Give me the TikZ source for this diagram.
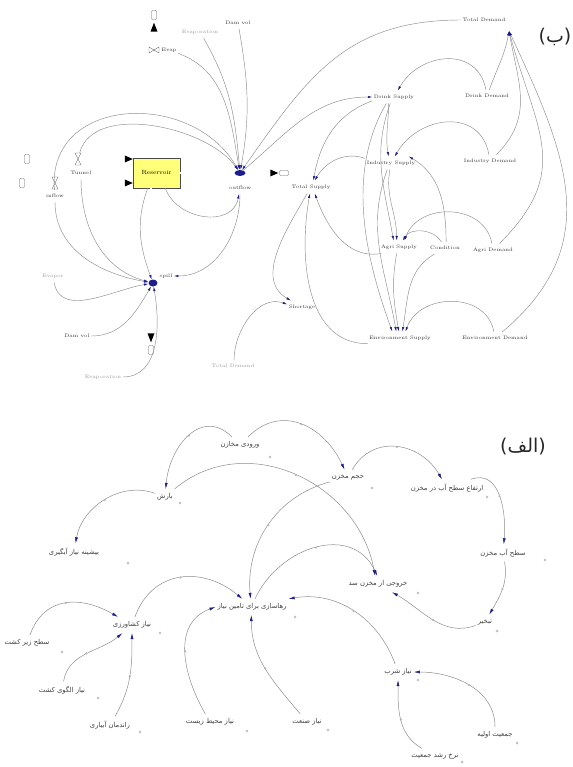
\documentclass[tikz,border=0pt]{standalone}
\usepackage{fontspec}
\usetikzlibrary{arrows.meta,shapes.geometric,calc}
\TeXXeTstate=1
\newfontfamily\fafont[Script=Arabic]{DejaVu Sans}
\definecolor{arrowblue}{HTML}{1E1E8A}
\definecolor{linegray}{HTML}{8C8C8C}
\definecolor{stockyellow}{HTML}{FFFF7A}
\newcommand{\prs}[1]{\beginR #1\endR}
\begin{document}
\begin{tikzpicture}[x=1pt,y=1pt,
  en/.style={font=\fontsize{5}{6}\selectfont, text=black!80, inner xsep=1.5pt, inner ysep=4pt},
  engray/.style={en, text=black!40},
  fal/.style={font=\fafont\fontsize{6.8}{8}\selectfont, text=black!75, inner xsep=2pt, inner ysep=4.5pt},
  con/.style={draw=linegray, line width=0.45pt, -{Latex[length=4.5pt,width=2.4pt,color=arrowblue]}},
  conb/.style={draw=linegray, line width=0.5pt, -{Latex[length=6pt,width=3pt,color=arrowblue]}},
  pipe/.style={draw=black!45, line width=0.5pt, double=white, double distance=1.2pt},
  cloudbox/.style={draw=black!60, fill=white, rounded corners=1.2pt, minimum width=5pt, minimum height=9pt, inner sep=0},
  dotm/.style={circle, draw=black!35, inner sep=0, minimum size=2.4pt},
  mm/.style={circle, draw=black!30, inner sep=0, minimum size=1.6pt, pos=0.5},
  blob/.style={ellipse, fill=arrowblue, minimum width=11pt, minimum height=6pt, inner sep=0},
  valvebox/.style={inner sep=0, minimum size=12pt},
  valve/.style={draw=black!60, line width=0.4pt},
  biglab/.style={font=\fafont\fontsize{19}{21}\selectfont, text=black!85, inner sep=0},
]
\useasboundingbox (0,0) rectangle (572,-767);

% ================= top diagram (b) =================
\node[draw=black!70, fill=stockyellow, minimum width=47pt, minimum height=30pt, inner sep=0,
      font=\fontsize{6}{7}\selectfont] (box) at (156.5,-173) {Reservoir};
\node[cloudbox] (ctop) at (154,-15) {};
\node[cloudbox] (cL1) at (27,-159) {};
\node[cloudbox] (cL2) at (22,-183) {};
\node[cloudbox, minimum width=9pt, minimum height=5pt] (cR) at (284,-173) {};
\node[cloudbox] (cB) at (151,-350) {};

% pipes
\draw[pipe] (ctop.south) -- (ctop.south |- box.north);
\draw[pipe] (cL1.east) -- (cL1.east -| box.west);
\draw[pipe] (cL2.east) -- (cL2.east -| box.west);
\draw[pipe] (box.east) -- (cR.west);
\draw[pipe] (cB.north) -- (cB.north |- box.south);
\fill[black] ($(ctop.south)+(0,-3)$) -- ++(-3.5,-9) -- ++(7,0) -- cycle;
\fill[black] (cL1.east -| box.west) -- ++(-8,3.5) -- ++(0,-7) -- cycle;
\fill[black] (cL2.east -| box.west) -- ++(-8,3.5) -- ++(0,-7) -- cycle;
\fill[black] ($(cR.west)+(-1,0)$) -- ++(-8,3.5) -- ++(0,-7) -- cycle;
\fill[black] ($(cB.north)+(0,3)$) -- ++(-3.5,9) -- ++(7,0) -- cycle;

% valves
\node[valvebox] (vEvap) at (154,-50) {};
\draw[valve, shift={(vEvap)}] (-5,3) -- (-5,-3) -- (5,3) -- (5,-3) -- cycle;
\node[valvebox] (vTun) at (78,-159) {};
\draw[valve, shift={(vTun)}] (-3,6) -- (3,6) -- (-3,-6) -- (3,-6) -- cycle;
\node[valvebox] (vIn) at (55,-183) {};
\draw[valve, shift={(vIn)}] (-3,6) -- (3,6) -- (-3,-6) -- (3,-6) -- cycle;
\node[blob] (vOut) at (240,-173) {};
\node[blob, minimum width=9pt, minimum height=7pt] (vSpill) at (153,-283) {};

% labels
\node[en] (lEvap) at (169,-50) {Evap};
\node[engray] (gEvap) at (200,-32) {Evaporation};
\node[en] (lRain) at (238,-23) {Dam vol};
\node[en] (lTun) at (81,-173) {Tunnel};
\node[en] (lIn) at (55,-196) {inflow};
\node[en] (lOut) at (240,-188) {outflow};
\node[en] (lSpill) at (166,-276) {spill};
\node[engray] (gEvap2) at (53,-276) {Evapor};
\node[en] (lDam) at (77,-336) {Dam vol};
\node[engray] (gBot) at (103,-377) {Evaporation};
\node[engray] (gTD) at (233,-366) {Total Demand};
\node[en] (Short) at (302,-307) {Shortage};
\node[en] (TD) at (484,-20) {Total Demand};
\coordinate (TDin) at (509,-31);
\node[en] (DS) at (394,-97) {Drink Supply};
\node[en] (DD) at (487,-96) {Drink Demand};
\node[en] (IS) at (391,-163) {Industry Supply};
\node[en] (ID) at (490,-161) {Industry Demand};
\node[en] (TS) at (311,-187) {Total Supply};
\node[en] (AS) at (399,-247) {Agri Supply};
\node[en] (Cond) at (445,-248) {Condition};
\node[en] (AD) at (493,-250) {Agri Demand};
\node[en] (ES) at (400,-338) {Environment Supply};
\node[en] (ED) at (495,-338) {Environment Demand};

% top-left connectors
\draw[con] (lIn) to[out=95,in=120,looseness=1.3] (vOut);
\draw[con] (vTun) to[out=75,in=125,looseness=0.85] (vOut);
\draw[con] (lEvap) to[out=-20,in=100] (vOut);
\draw[con] (gEvap) to[out=-60,in=95] (vOut);
\draw[con] (lRain) to[out=-80,in=80] (vOut);
\draw[con] (box.-60) to[out=-70,in=-100,looseness=1.2] (lOut);
\draw[con] (lOut) to[out=-90,in=0] (lSpill);
\draw[con] (lIn) to[out=-90,in=170] (vSpill);
\draw[con] (lTun) to[out=-90,in=165] (vSpill);
\draw[con] (box.-120) to[out=-110,in=110] (vSpill);
\draw[con] (gEvap2) to[out=-80,in=190] (vSpill);
\draw[con] (lDam) to[out=0,in=-120] (vSpill);
\draw[con] (gBot) to[out=0,in=-80] (vSpill);

% top-right connectors
\draw[con] (TD) to[out=180,in=55,looseness=1.1] (vOut);
\draw[con] (vOut) to[out=40,in=180] (DS);
\draw[con] (DD) to[out=100,in=60,looseness=1.3] (DS);
\draw[con] (DD) to[out=70,in=-100] (TDin);
\draw[con] (ID) to[out=100,in=60,looseness=1.3] (IS);
\draw[con] (ID) to[out=45,in=-80,looseness=1.1] (TDin);
\draw[con] (AD) to[out=45,in=-75,looseness=1.25] (TDin);
\draw[con] (ED) to[out=40,in=-65,looseness=1.15] (TDin);
\draw[con] (DS.-130) to[out=-90,in=100] (IS.110);
\draw[con] (DS.190) to[out=200,in=80] (TS.70);
\draw[con] (IS.170) to[out=160,in=60] (TS.60);
\draw[con] (DS.-120) to[out=-110,in=100] (AS.130);
\draw[con] (DS.-140) to[out=-120,in=110,looseness=0.9] (ES.140);
\draw[con] (IS.-100) to[out=-100,in=90] (AS.110);
\draw[con] (IS.-120) to[out=-110,in=100] (ES.120);
\draw[con] (AS.200) to[out=190,in=-70] (TS.-60);
\draw[con] (ES.190) to[out=180,in=-100] (TS.-100);
\draw[con] (AS.-110) to[out=-100,in=100] (ES.100);
\draw[con] (Cond.80) to[out=90,in=-30] (IS.20);
\draw[con] (Cond.120) to[out=120,in=60] (AS.60);
\draw[con] (Cond.-150) to[out=210,in=80] (ES.70);
\draw[con] (AD.100) to[out=100,in=70,looseness=1.2] (AS.50);
\draw[con] (ED.100) to[out=100,in=70,looseness=1.2] (ES.50);
\draw[con] (TS.-120) to[out=-120,in=150] (Short.150);
\draw[con] (gTD.80) to[out=90,in=160] (Short.170);

\node[biglab] (labB) at (555,-37) {(ب)};

% ================= bottom diagram (alef) =================
\node[fal] (in1) at (240,-445) {\prs{ورودی مخازن}};
\node[fal] (hajm) at (348,-477) {\prs{حجم مخزن}};
\node[fal] (ert) at (447,-488) {\prs{ارتفاع سطح آب در مخزن}};
\node[fal] (sath) at (503,-553) {\prs{سطح آب مخزن}};
\node[fal] (tab) at (485,-622) {\prs{تبخیر}};
\node[fal] (khor) at (378,-584) {\prs{خروجی از مخزن سد}};
\node[fal] (rah) at (252,-607) {\prs{رهاسازی برای تامین نیاز}};
\node[fal] (bar) at (165,-497) {\prs{بارش}};
\node[fal] (bish) at (74,-552) {\prs{بیشینه نیاز آبگیری}};
\node[fal] (kesh) at (132,-625) {\prs{نیاز کشاورزی}};
\node[fal] (zir) at (27,-643) {\prs{سطح زیر کشت}};
\node[fal] (olgu) at (62,-690) {\prs{نیاز الگوی کشت}};
\node[fal] (rand) at (110,-725) {\prs{راندمان آبیاری}};
\node[fal] (mohit) at (210,-722) {\prs{نیاز محیط زیست}};
\node[fal] (sanat) at (307,-722) {\prs{نیاز صنعت}};
\node[fal] (shorb) at (398,-672) {\prs{نیاز شرب}};
\node[fal] (jam) at (495,-735) {\prs{جمعیت اولیه}};
\node[fal] (nerkh) at (435,-756) {\prs{نرخ رشد جمعیت}};
\node[biglab] (labA) at (523,-447) {(الف)};

% small circles beside the names
\node[dotm] (o1) at (270,-457) {};
\node[dotm] (o2) at (372,-488) {};
\node[dotm] (o3) at (487,-497) {};
\node[dotm] (o4) at (545,-560) {};
\node[dotm] (o5) at (497,-631) {};
\node[dotm] (o6) at (418,-593) {};
\node[dotm] (o7) at (295,-617) {};
\node[dotm] (o8) at (180,-503) {};
\node[dotm] (o9) at (128,-563) {};
\node[dotm] (o10) at (160,-633) {};
\node[dotm] (o11) at (62,-652) {};
\node[dotm] (o12) at (98,-698) {};
\node[dotm] (o13) at (140,-732) {};
\node[dotm] (o14) at (247,-731) {};
\node[dotm] (o15) at (328,-730) {};
\node[dotm] (o16) at (418,-680) {};
\node[dotm] (o17) at (517,-743) {};
\node[dotm] (o18) at (462,-762) {};

% bottom connectors
\draw[conb] (in1) to[out=135,in=85,looseness=1.3] node[mm]{} (bar);
\draw[conb] (in1) to[out=45,in=115,looseness=1.2] node[mm]{} (hajm);
\draw[conb] (hajm) to[out=60,in=120,looseness=1.2] node[mm]{} (ert);
\draw[conb] (ert) to[out=20,in=85,looseness=1.1] node[mm]{} (sath);
\draw[conb] (sath) to[out=-80,in=60] node[mm]{} (tab);
\draw[conb] (tab) to[out=200,in=-30] node[mm]{} (khor.-30);
\draw[conb] (bar) to[out=160,in=80] node[mm]{} (bish);
\draw[conb] (bar) to[out=40,in=100,looseness=1.1] node[mm]{} (khor.110);
\draw[conb] (hajm) to[out=195,in=95] node[mm]{} (rah.100);
\draw[conb] (rah.70) to[out=65,in=115,looseness=1.2] node[mm]{} (khor.95);
\draw[conb] (kesh) to[out=70,in=140,looseness=1.2] node[mm]{} (rah.140);
\draw[conb] (zir) to[out=70,in=150,looseness=1.2] node[mm]{} (kesh);
\draw[conb] (olgu) to[out=80,in=220] node[mm]{} (kesh);
\draw[conb] (rand) to[out=60,in=-90] node[mm]{} (kesh);
\draw[conb] (mohit) to[out=120,in=200,looseness=1.1] node[mm]{} (rah.west);
\draw[conb] (sanat) to[out=130,in=-90] node[mm]{} (rah.-95);
\draw[conb] (shorb) to[out=110,in=10] node[mm]{} (rah.north east);
\draw[conb] (jam) to[out=90,in=0] node[mm]{} (shorb);
\draw[conb] (nerkh) to[out=150,in=-90] node[mm]{} (shorb);
\end{tikzpicture}
\end{document}
